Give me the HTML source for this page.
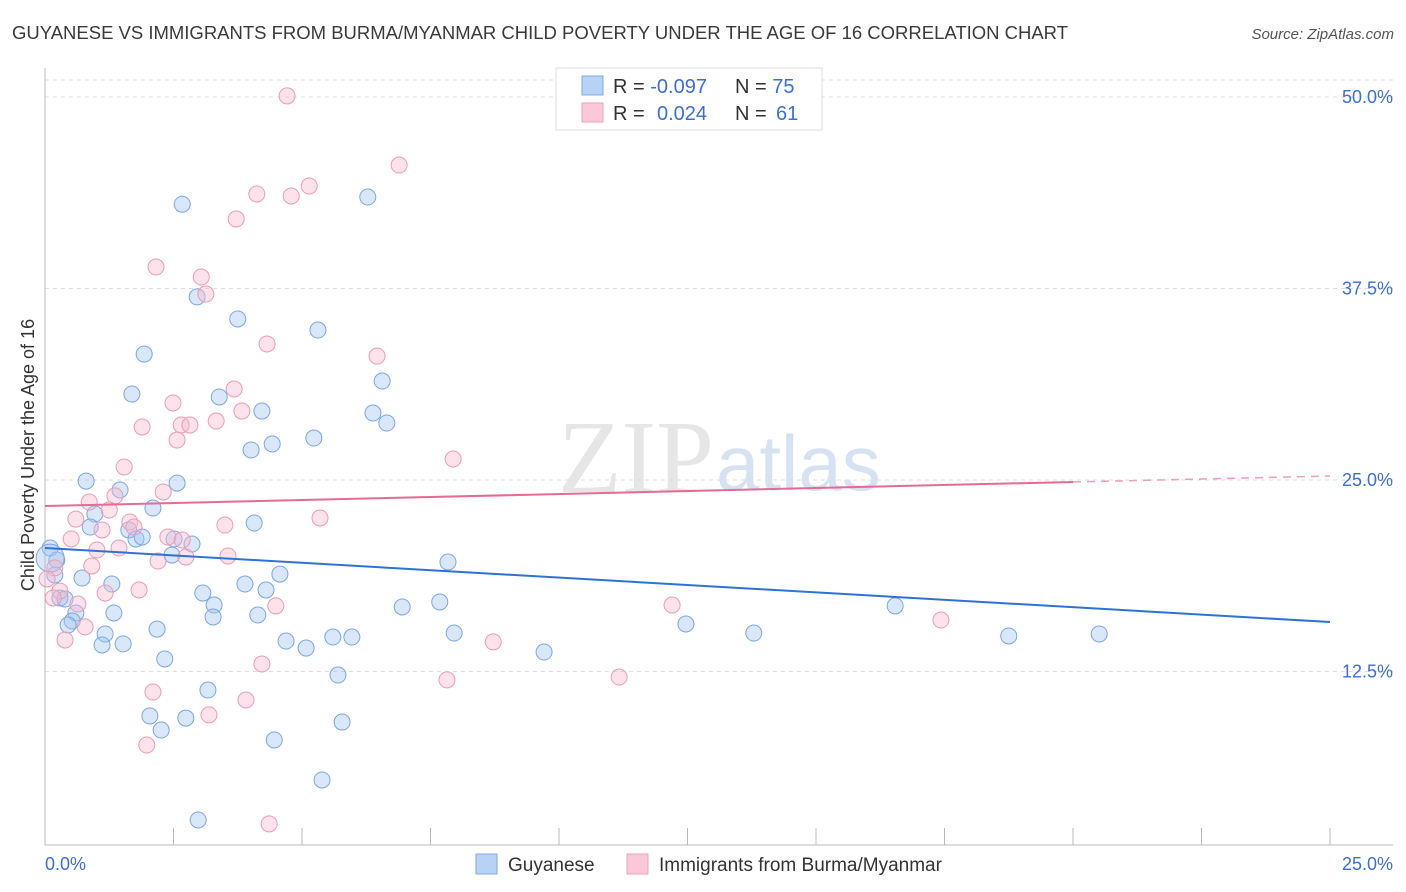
<!DOCTYPE html>
<html><head><meta charset="utf-8"><style>
body{margin:0;background:#fff;font-family:"Liberation Sans",sans-serif;}
svg{display:block}
</style></head><body>
<svg id="chart" width="1406" height="892" viewBox="0 0 1406 892">
<text x="12" y="39" font-size="18" fill="#3a3a3a" textLength="1056" lengthAdjust="spacingAndGlyphs">GUYANESE VS IMMIGRANTS FROM BURMA/MYANMAR CHILD POVERTY UNDER THE AGE OF 16 CORRELATION CHART</text>
<text x="1394" y="39" font-size="15" fill="#555" text-anchor="end" font-style="italic">Source: ZipAtlas.com</text>
<text x="714" y="492" font-size="104" fill="#e6e6e6" text-anchor="end" font-family="Liberation Serif">ZIP</text>
<text x="716" y="490" font-size="78" fill="#d6e2f2">atlas</text>
<text transform="translate(34,455) rotate(-90)" font-size="18" fill="#333" text-anchor="middle">Child Poverty Under the Age of 16</text>
<g id="grid"></g><g id="axes"></g><g id="pts"></g><g id="lines"></g>
<g>
<rect x="556" y="68" width="266" height="62" fill="#fff" stroke="#ddd"/>
<rect x="582" y="76" width="21" height="19" fill="#b8d2f5" stroke="#7fa9e4"/>
<rect x="582" y="103" width="21" height="19" fill="#fac8d8" stroke="#eea0ba"/>
<text x="613" y="93" font-size="20" fill="#333">R = <tspan fill="#3d6fd0">-0.097</tspan></text>
<text x="735" y="93" font-size="20" fill="#333">N = <tspan fill="#3d6fd0">75</tspan></text>
<text x="613" y="120" font-size="20" fill="#333">R = <tspan fill="#3d6fd0" x="657">0.024</tspan></text>
<text x="735" y="120" font-size="20" fill="#333">N = <tspan fill="#3d6fd0" x="776">61</tspan></text>
</g>
<g>
<rect x="476" y="854" width="21" height="20" fill="#b8d2f5" stroke="#7fa9e4"/>
<text x="508" y="871" font-size="19" fill="#333">Guyanese</text>
<rect x="627" y="854" width="21" height="20" fill="#fac8d8" stroke="#eea0ba"/>
<text x="659" y="871" font-size="19" fill="#333">Immigrants from Burma/Myanmar</text>
</g>
</svg>
<script>
const xTicks=[0,2.5,5,7.5,10,12.5,15,17.5,20,22.5,25];
const yTicks=[12.5,25,37.5,50];
const yTickLabels=["12.5%","25.0%","37.5%","50.0%"];
const blueX=[2.67,6.28,2.96,3.75,5.31,1.93,6.56,1.69,3.39,4.22,6.38,6.65,5.23,4.42,4.01,0.80,2.57,1.46,0.97,2.10,4.07,0.88,1.63,1.77,1.89,2.51,2.86,0.10,0.23,2.47,7.84,0.19,0.72,1.30,4.57,3.89,4.30,3.07,0.29,0.39,3.29,6.95,7.68,0.60,1.34,3.27,4.14,0.53,0.45,1.17,2.18,7.96,4.69,5.60,5.97,5.08,1.11,1.52,9.71,12.47,13.79,16.54,18.75,20.51,2.33,5.70,3.17,2.04,2.74,2.26,5.78,4.46,5.39,2.98,0.10];
const blueY=[43.0,43.47,36.95,35.51,34.79,33.22,31.46,30.61,30.42,29.5,29.37,28.72,27.74,27.35,26.96,24.93,24.80,24.35,22.78,23.17,22.19,21.93,21.74,21.15,21.28,21.15,20.82,20.56,19.78,20.10,19.65,18.80,18.60,18.21,18.86,18.21,17.82,17.62,17.30,17.23,16.84,16.71,17.04,16.32,16.32,16.06,16.19,15.80,15.54,14.95,15.27,15.01,14.49,14.75,14.75,14.03,14.23,14.30,13.77,15.60,15.01,16.78,14.82,14.95,13.32,12.27,11.29,9.60,9.46,8.68,9.20,8.03,5.42,2.81,19.9];
const pinkX=[4.71,6.89,5.14,4.12,4.79,3.72,2.16,3.04,3.13,4.32,6.46,3.68,2.49,3.83,3.33,1.89,2.65,2.82,2.57,7.94,1.54,2.30,1.36,0.86,1.25,5.35,0.60,3.50,1.65,1.73,1.11,0.51,2.39,2.67,1.01,1.44,3.56,2.74,2.20,0.19,0.91,0.04,1.17,1.83,0.29,0.16,4.49,0.64,12.20,17.43,0.78,0.39,8.72,4.22,7.82,11.17,2.10,3.91,3.19,1.98,4.36];
const pinkY=[50.07,45.56,44.19,43.67,43.54,42.04,38.90,38.25,37.14,33.88,33.09,30.94,30.03,29.50,28.85,28.46,28.59,28.59,27.61,26.37,25.85,24.22,23.96,23.56,23.04,22.52,22.45,22.06,22.26,21.93,21.74,21.15,21.28,21.08,20.43,20.56,20.04,19.97,19.71,19.26,19.39,18.54,17.62,17.82,17.75,17.30,16.78,16.91,16.84,15.86,15.41,14.56,14.43,12.99,11.95,12.14,11.16,10.64,9.67,7.70,2.55];
const blueTrend=[20.56,15.73];
const pinkTrend=[23.3,24.87,25.26];
const X=v=>45+v*51.4, Y=v=>97+(50-v)*15.32;
const NS="http://www.w3.org/2000/svg";
function mk(tag,attrs,parent){const e=document.createElementNS(NS,tag);for(const k in attrs)e.setAttribute(k,attrs[k]);document.getElementById(parent).appendChild(e);return e;}
let g=mk('line',{x1:45,x2:1393,y1:80,y2:80,stroke:'#ddd','stroke-dasharray':'4,4'},'grid');


yTicks.forEach((t,i)=>{
 const l=mk('line',{x1:45,x2:1393,y1:Y(t),y2:Y(t),stroke:'#ddd','stroke-dasharray':'4,4'},'grid');
 
 
 const tx=mk('text',{x:1393,y:Y(t)+6,'font-size':18,fill:'#3d6fd0','text-anchor':'end'},'grid');
 tx.textContent=yTickLabels[i];
 
 
});
let a=mk('line',{x1:45,x2:45,y1:68,y2:845,stroke:'#bbb'},'axes');


a=mk('line',{x1:45,x2:1393,y1:845,y2:845,stroke:'#bbb'},'axes');


xTicks.forEach(t=>{const l=mk('line',{x1:X(t),x2:X(t),y1:828,y2:845,stroke:'#bbb'},'axes');
 
 });
let t0=mk('text',{x:45,y:870,'font-size':18,fill:'#3d6fd0'},'axes');t0.textContent='0.0%';


let t1=mk('text',{x:1393,y:870,'font-size':18,fill:'#3d6fd0','text-anchor':'end'},'axes');t1.textContent='25.0%';


blueX.forEach((x,i)=>{const c=mk('circle',{cx:X(x),cy:Y(blueY[i]),r:i==blueX.length-1?14:8,fill:'rgba(160,195,240,0.4)',stroke:'#7aa7e2','stroke-width':1},'pts');
 
 });
pinkX.forEach((x,i)=>{const c=mk('circle',{cx:X(x),cy:Y(pinkY[i]),r:8,fill:'rgba(248,185,206,0.4)',stroke:'#eb9bb7','stroke-width':1},'pts');
 
 });
let bl=mk('line',{x1:X(0),y1:Y(blueTrend[0]),x2:X(25),y2:Y(blueTrend[1]),stroke:'#2f72d6','stroke-width':2},'lines');


let pl=mk('line',{x1:X(0),y1:Y(pinkTrend[0]),x2:X(20),y2:Y(pinkTrend[1]),stroke:'#e56b96','stroke-width':2},'lines');


let pd=mk('line',{x1:X(20),y1:Y(pinkTrend[1]),x2:X(25),y2:Y(pinkTrend[2]),stroke:'#e9a0b8','stroke-width':1.5,'stroke-dasharray':'8,6'},'lines');


</script>
</body></html>
